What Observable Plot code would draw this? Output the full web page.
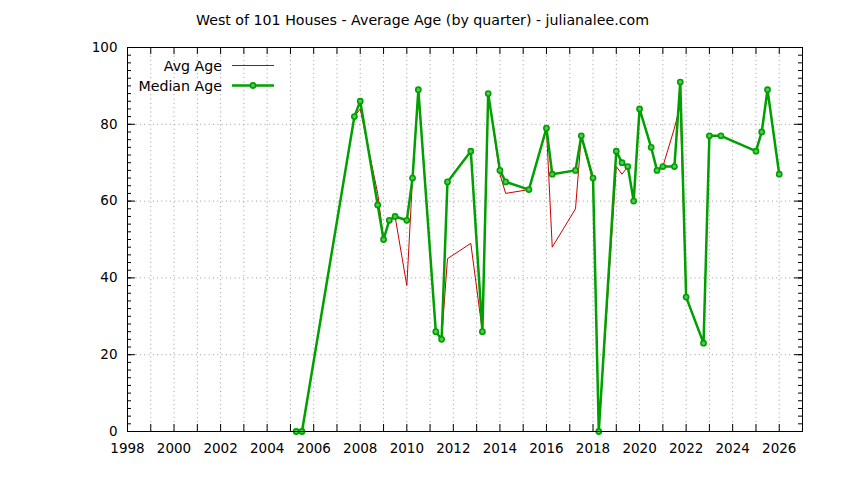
<!DOCTYPE html>
<html>
<head>
<meta charset="utf-8">
<script src="https://cdn.jsdelivr.net/npm/d3@7"></script>
<script src="https://cdn.jsdelivr.net/npm/@observablehq/plot@0.6"></script>
<style>
  html, body { margin: 0; padding: 0; background: white; }
  #chart svg { display: block; }
</style>
</head>
<body>
<div id="chart"></div>
<script>
const titleText = "West of 101 Houses - Average Age (by quarter) - julianalee.com";

const quarters = ["2005-Q2","2005-Q3","2007-Q4","2008-Q1","2008-Q4","2009-Q1","2009-Q2","2009-Q3","2010-Q1","2010-Q2","2010-Q3","2011-Q2","2011-Q3","2011-Q4","2012-Q4","2013-Q2","2013-Q3","2014-Q1","2014-Q2","2015-Q2","2016-Q1","2016-Q2","2017-Q2","2017-Q3","2018-Q1","2018-Q2","2019-Q1","2019-Q2","2019-Q3","2019-Q4","2020-Q1","2020-Q3","2020-Q4","2021-Q1","2021-Q3","2021-Q4","2022-Q1","2022-Q4","2023-Q1","2023-Q3","2025-Q1","2025-Q2","2025-Q3","2026-Q1"];

const medianAge = [0,0,82,86,59,50,55,56,55,66,89,26,24,65,73,26,88,68,65,63,79,67,68,77,66,0,73,70,69,60,84,74,68,69,69,91,35,23,77,77,73,78,89,67];

const avgAge = [0,0,82,84,62,50,55,56,38,66,89,26,24,45,49,26,88,67,62,63,79,48,58,77,65,0,69,67,69,60,84,74,68,69,79,85,35,23,77,77,73,78,89,67];

const yMajorTicks = [0,20,40,60,80,100];
const seriesNames = ["Avg Age","Median Age"];

function quarterDate(q) {
  const [y, n] = q.split("-Q");
  return new Date(Date.UTC(+y, (+n - 1) * 3, 1));
}

const data = quarters.map((q, i) => ({date: quarterDate(q), median: medianAge[i], avg: avgAge[i]}));

const xStart = new Date(Date.UTC(1998, 0, 1));
const xEnd = new Date(Date.UTC(2027, 0, 1));
const allYears = d3.utcYear.range(xStart, new Date(Date.UTC(2027, 0, 2)));
const innerYears = allYears.filter(d => d > xStart && d < xEnd);
const labelYears = allYears.filter(d => d.getUTCFullYear() % 2 === 0);
const yMinor = d3.range(0, 101, 2);
const yGrid = yMajorTicks.filter(v => v > 0 && v < 100);

const W = 844, H = 480, mL = 127, mR = 42, mT = 47, mB = 49;
const fw = W - mL - mR, fh = H - mT - mB;

const red = "#cc0000", green = "#00a000";
const gridStyle = {stroke: "#9a9a9a", strokeOpacity: 1, strokeWidth: 1, strokeDasharray: "1,3.3"};

const chart = Plot.plot({
  width: W, height: H,
  marginLeft: mL, marginRight: mR, marginTop: mT, marginBottom: mB,
  style: {fontFamily: "DejaVu Sans", fontSize: "14px", background: "white", color: "black"},
  x: {type: "utc", domain: [xStart, xEnd]},
  y: {domain: [0, 100]},
  marks: [
    Plot.gridX(innerYears, gridStyle),
    Plot.gridY(yGrid, gridStyle),
    Plot.line(data, {x: "date", y: "avg", stroke: red, strokeWidth: 1}),
    Plot.line(data, {x: "date", y: "median", stroke: green, strokeWidth: 2.5}),
    Plot.dot(data, {x: "date", y: "median", r: 2.6, stroke: green, strokeWidth: 1.6, fill: "#55c855"}),
    // inward ticks
    Plot.ruleX(allYears, {x: d => d, insetTop: fh - 7, stroke: "black"}),
    Plot.ruleX(allYears, {x: d => d, insetBottom: fh - 7, stroke: "black"}),
    Plot.ruleY(yMinor, {y: d => d, insetRight: fw - 4, stroke: "black"}),
    Plot.ruleY(yMajorTicks, {y: d => d, insetRight: fw - 8, stroke: "black"}),
    Plot.ruleY(yMinor, {y: d => d, insetLeft: fw - 4, stroke: "black"}),
    Plot.ruleY(yMajorTicks, {y: d => d, insetLeft: fw - 8, stroke: "black"}),
    Plot.frame({stroke: "black", strokeWidth: 1}),
    Plot.axisX(labelYears, {tickSize: 0, tickPadding: 12, tickFormat: "%Y", label: null, fontSize: 13.5}),
    Plot.axisY(yMajorTicks, {tickSize: 0, tickPadding: 10, label: null, fontSize: 13.5}),
    Plot.text([titleText], {frameAnchor: "top", dx: (W / 2) - (mL + fw / 2), dy: -27, fontSize: 14.2, lineAnchor: "middle"})
  ]
});

document.getElementById("chart").appendChild(chart);

// Legend (key) in the top-left corner of the frame
const svg = d3.select(chart);
const legendRows = [{name: seriesNames[0], y: mT + 18.5, color: red, width: 1, marker: false},
                    {name: seriesNames[1], y: mT + 38.5, color: green, width: 2.5, marker: true}];
const lg = svg.append("g").attr("font-family", "DejaVu Sans").attr("font-size", 14.2);
legendRows.forEach(r => {
  lg.append("text").attr("x", mL + 95).attr("y", r.y).attr("text-anchor", "end")
    .attr("dominant-baseline", "central").attr("fill", "black").text(r.name);
  lg.append("line").attr("x1", 232).attr("x2", 274).attr("y1", r.y).attr("y2", r.y)
    .attr("stroke", r.color).attr("stroke-width", r.width);
  if (r.marker) {
    lg.append("circle").attr("cx", 253).attr("cy", r.y).attr("r", 2.6)
      .attr("stroke", green).attr("stroke-width", 1.6).attr("fill", "#55c855");
  }
});
</script>
</body>
</html>
